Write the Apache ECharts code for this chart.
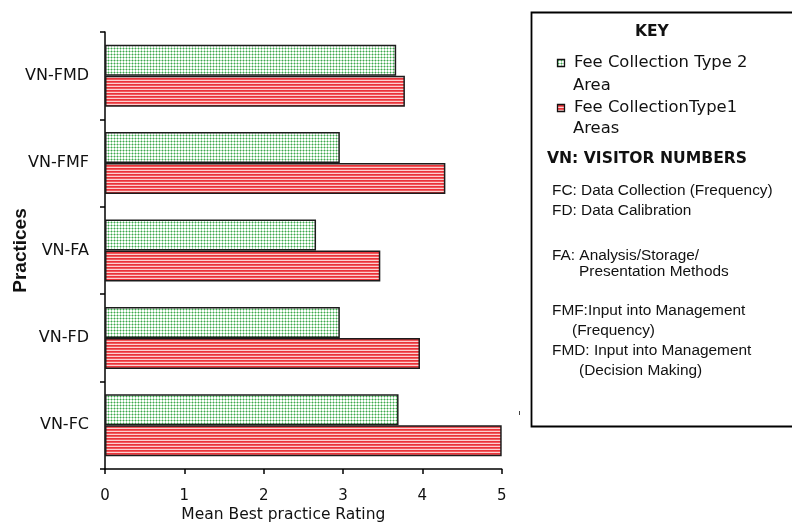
<!DOCTYPE html>
<html>
<head>
<meta charset="utf-8">
<script src="https://cdn.jsdelivr.net/npm/echarts@6/dist/echarts.min.js"></script>
<style>
  html, body { margin: 0; padding: 0; background: #ffffff; }
  #chart { width: 792px; height: 523px; }
</style>
</head>
<body>
<div id="chart"></div>
<script>
// Practices, bottom to top on the category axis
const categories = ['VN-FC', 'VN-FD', 'VN-FA', 'VN-FMF', 'VN-FMD'];
// Mean best practice rating per practice
const type2Values = [3.7, 2.96, 2.66, 2.96, 3.67];
const type1Values = [5.0, 3.97, 3.47, 4.29, 3.78];
// Rating axis ticks
const ratingTicks = [0, 1, 2, 3, 4, 5];

const seriesNames = ['Fee Collection Type 2 Area', 'Fee CollectionType1 Areas'];

// Small repeating tiles used as bar fills
function makeTile(w, h, paint) {
  const c = document.createElement('canvas');
  c.width = w; c.height = h;
  const ctx = c.getContext('2d');
  for (let y = 0; y < h; y++) {
    for (let x = 0; x < w; x++) {
      ctx.fillStyle = paint(x, y);
      ctx.fillRect(x, y, 1, 1);
    }
  }
  return c;
}
const greenTile = makeTile(3, 3, (x, y) => {
  if (x === 0 && y === 0) return '#3fa64f';
  if (x === 0 || y === 0) return '#a9dcb0';
  return '#ffffff';
});
const redTile = makeTile(4, 3, (x, y) => {
  if (y === 0) return '#e8343a';
  if (y === 1) return '#f2595d';
  return '#fcd0d0';
});
const greenFill = { image: greenTile, repeat: 'repeat' };
const redFill = { image: redTile, repeat: 'repeat' };

const chart = echarts.init(document.getElementById('chart'), null, { renderer: 'canvas' });

const keyFont = 'DejaVu Sans';
const noteFont = 'Liberation Sans';

function keyText(x, y, text, font, size, weight) {
  return {
    type: 'text', left: x, top: y - size * 0.6,
    style: { text: text, font: (weight || 'normal') + ' ' + size + 'px "' + font + '"', fill: '#111111' },
    z: 10
  };
}

chart.setOption({
  animation: false,
  backgroundColor: '#ffffff',
  grid: {
    left: 105, top: 32, width: 396.7, height: 437,
    containLabel: false, outerBoundsMode: 'none'
  },
  xAxis: {
    type: 'value',
    min: ratingTicks[0], max: ratingTicks[ratingTicks.length - 1], interval: 1,
    name: 'Mean Best practice Rating',
    nameLocation: 'middle', nameGap: 38, nameMoveOverlap: false,
    nameTextStyle: { fontFamily: keyFont, fontSize: 15.5, color: '#111', padding: [0, 40, 0, 0] },
    axisLine: { show: true, lineStyle: { color: '#000', width: 1.5 } },
    axisTick: { show: true, length: 5, lineStyle: { color: '#000', width: 1.5 } },
    axisLabel: { fontFamily: keyFont, fontSize: 15, color: '#111', margin: 20 },
    splitLine: { show: false }
  },
  yAxis: {
    type: 'category',
    data: categories,
    name: 'Practices',
    nameLocation: 'middle', nameRotate: 90, nameGap: 75, nameMoveOverlap: false,
    nameTextStyle: { fontFamily: noteFont, fontWeight: 'bold', fontSize: 19, color: '#111' },
    axisLine: { show: true, lineStyle: { color: '#000', width: 1.5 } },
    axisTick: { show: true, length: 5, lineStyle: { color: '#000', width: 1.5 } },
    axisLabel: { fontFamily: keyFont, fontSize: 16, color: '#111', margin: 16 },
    splitLine: { show: false }
  },
  series: [
    {
      name: seriesNames[0], type: 'bar', data: type2Values,
      barWidth: 31, barGap: '0%',
      itemStyle: { color: greenFill, borderColor: '#1c1c1c', borderWidth: 1.5 }
    },
    {
      name: seriesNames[1], type: 'bar', data: type1Values,
      barWidth: 31, barGap: '0%',
      itemStyle: { color: redFill, borderColor: '#1c1c1c', borderWidth: 1.5 }
    }
  ],
  graphic: [
    // key box
    {
      type: 'rect', shape: { x: 531.5, y: 12.5, width: 280, height: 414 },
      style: { fill: '#ffffff', stroke: '#000', lineWidth: 1.8 }, z: 5
    },
    keyText(635, 33, 'KEY', keyFont, 15.5, 'bold'),
    {
      type: 'rect', shape: { x: 557.5, y: 59.5, width: 7, height: 7 },
      style: { fill: greenFill, stroke: '#111', lineWidth: 1.3 }, z: 10
    },
    keyText(574, 65, 'Fee Collection Type 2', keyFont, 16.4),
    keyText(573, 88, 'Area', keyFont, 16.4),
    {
      type: 'rect', shape: { x: 557.5, y: 104.5, width: 7, height: 7 },
      style: { fill: redFill, stroke: '#111', lineWidth: 1.3 }, z: 10
    },
    keyText(574, 110, 'Fee CollectionType1', keyFont, 16.4),
    keyText(573, 131, 'Areas', keyFont, 16.4),
    keyText(547, 160, 'VN: VISITOR NUMBERS', keyFont, 15.6, 'bold'),
    keyText(552, 192, 'FC: Data Collection (Frequency)', noteFont, 15.4),
    keyText(552, 212, 'FD: Data Calibration', noteFont, 15.4),
    keyText(552, 257, 'FA: Analysis/Storage/', noteFont, 15.4),
    keyText(579, 273, 'Presentation Methods', noteFont, 15.4),
    keyText(552, 312, 'FMF:Input into Management', noteFont, 15.4),
    keyText(572, 332, '(Frequency)', noteFont, 15.4),
    keyText(552, 352, 'FMD: Input into Management', noteFont, 15.4),
    keyText(579, 372, '(Decision Making)', noteFont, 15.4),
    // small stray mark left of the key box
    {
      type: 'line', shape: { x1: 519.5, y1: 411, x2: 519.5, y2: 415 },
      style: { stroke: '#444', lineWidth: 1 }, z: 10
    }
  ]
});
</script>
</body>
</html>
